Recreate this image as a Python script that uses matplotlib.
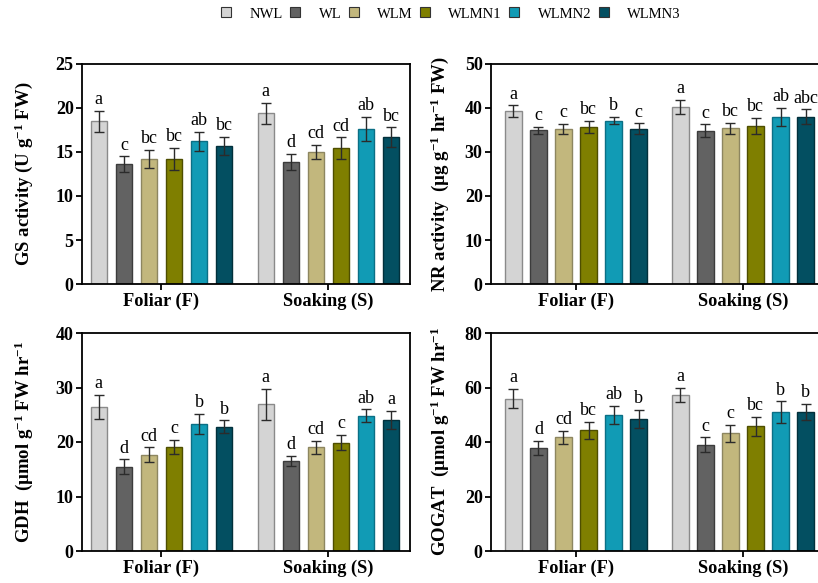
import numpy as np
import matplotlib
matplotlib.use("Agg")
import matplotlib.pyplot as plt
from matplotlib.lines import Line2D

plt.rcParams['font.family'] = ['Liberation Serif', 'DejaVu Serif']
plt.rcParams['mathtext.default'] = 'regular'

treatments = ['NWL', 'WL', 'WLM', 'WLMN1', 'WLMN2', 'WLMN3']
methods = ['Foliar (F)', 'Soaking (S)']
colors = ['#d4d4d4', '#626262', '#c2b77d', '#7f7f00', '#119bb5', '#034f61']
edges = ['#8a8a8a', '#3c3c3c', '#8d8660', '#4e4e00', '#0b6f85', '#02303b']

# GS activity: rows = treatments, cols = (Foliar, Soaking)
gs_mean = [[18.5, 19.4], [13.6, 13.9], [14.2, 15.0], [14.2, 15.4], [16.2, 17.6], [15.7, 16.7]]
gs_err = [[1.2, 1.2], [0.9, 0.9], [1.0, 0.8], [1.3, 1.25], [1.1, 1.4], [1.0, 1.1]]
gs_let = [['a', 'a'], ['c', 'd'], ['bc', 'cd'], ['bc', 'cd'], ['ab', 'ab'], ['bc', 'bc']]

nr_mean = [[39.3, 40.3], [34.9, 34.8], [35.3, 35.4], [35.7, 36.0], [37.1, 38.0], [35.3, 38.0]]
nr_err = [[1.3, 1.6], [0.8, 1.5], [1.1, 1.3], [1.4, 1.8], [0.8, 2.1], [1.2, 1.7]]
nr_let = [['a', 'a'], ['c', 'c'], ['c', 'bc'], ['bc', 'bc'], ['b', 'ab'], ['c', 'abc']]

gdh_mean = [[26.5, 26.9], [15.5, 16.5], [17.7, 19.0], [19.1, 19.9], [23.3, 24.8], [22.8, 24.0]]
gdh_err = [[2.2, 2.8], [1.3, 0.9], [1.3, 1.2], [1.35, 1.35], [1.8, 1.2], [1.15, 1.65]]
gdh_let = [['a', 'a'], ['d', 'd'], ['cd', 'cd'], ['c', 'c'], ['b', 'ab'], ['b', 'a']]

gogat_mean = [[55.9, 57.3], [37.8, 39.0], [41.7, 43.2], [44.3, 45.7], [49.9, 50.9], [48.4, 50.9]]
gogat_err = [[3.5, 2.5], [2.7, 2.7], [2.5, 3.1], [3.1, 3.5], [3.4, 4.0], [3.4, 3.0]]
gogat_let = [['a', 'a'], ['d', 'c'], ['cd', 'c'], ['bc', 'bc'], ['ab', 'b'], ['b', 'b']]

W, H = 818, 583
fig = plt.figure(figsize=(W / 100, H / 100), dpi=100)


def make_ax(left, top, bottom, xlim):
    width = (xlim[1] - xlim[0]) * 167
    return fig.add_axes([left / W, 1 - bottom / H, width / W, (bottom - top) / H])


def panel(ax, mean, err, letters, ymax, ystep, ylabel, xlim):
    x = np.arange(len(methods))
    for i in range(len(treatments)):
        xi = x + (i - 2.5) * 0.15
        m = mean[i]
        e = err[i]
        ax.bar(xi, m, width=0.10, color=colors[i], edgecolor=edges[i],
               linewidth=1.0, label=treatments[i], zorder=2)
        ax.errorbar(xi, m, yerr=e, fmt='none', ecolor='#2b2b2b', elinewidth=1.0,
                    capsize=3.5, capthick=1.0, zorder=3)
        for xx, mm, ee, lt in zip(xi, m, e, letters[i]):
            ax.annotate(lt, (xx, mm + ee), xytext=(0, 2), textcoords='offset points',
                        ha='center', va='bottom', fontsize=13)
    ax.set_xlim(*xlim)
    ax.set_ylim(0, ymax)
    ax.set_yticks(np.arange(0, ymax + 0.1, ystep))
    ax.set_xticks(x)
    ax.set_xticklabels(methods, fontweight='bold', fontsize=13.2)
    for t in ax.get_yticklabels():
        t.set_fontweight('bold')
        t.set_fontsize(13)
    ax.tick_params(axis='both', direction='out', length=4, width=1.3, pad=2)
    for s in ax.spines.values():
        s.set_linewidth(1.3)
    ax.set_ylabel(ylabel, fontweight='bold', fontsize=13.5)


xl_left = (-0.476, 1.488)
xl_right = (-0.509, 1.48)

ax1 = make_ax(82, 64, 284, xl_left)
panel(ax1, gs_mean, gs_err, gs_let, 25, 5, 'GS activity (U g$^{-1}$ FW)', xl_left)
ax1.yaxis.set_label_coords(-0.143, 0.5)

ax2 = make_ax(491, 64, 284, xl_right)
panel(ax2, nr_mean, nr_err, nr_let, 50, 10, 'NR activity  (µg g$^{-1}$ hr$^{-1}$ FW)', xl_right)
ax2.yaxis.set_label_coords(-0.12, 0.5)

ax3 = make_ax(82, 333, 551, xl_left)
panel(ax3, gdh_mean, gdh_err, gdh_let, 40, 10, 'GDH  (µmol g$^{-1}$ FW hr$^{-1}$', xl_left)
ax3.yaxis.set_label_coords(-0.143, 0.5)

ax4 = make_ax(491, 333, 551, xl_right)
panel(ax4, gogat_mean, gogat_err, gogat_let, 80, 20, 'GOGAT  (µmol g$^{-1}$ FW hr$^{-1}$', xl_right)
ax4.yaxis.set_label_coords(-0.12, 0.5)

handles = [Line2D([], [], ls='none', marker='s', markersize=6.5, markerfacecolor=c,
                  markeredgecolor='#333333', markeredgewidth=0.8) for c in colors]
fig.legend(handles=handles, labels=treatments, loc='center', bbox_to_anchor=(0.55, 1 - 14 / H),
           ncol=6, frameon=False, fontsize=10.5, handlelength=1.0,
           handletextpad=1.1, columnspacing=0.35)

fig.savefig('out.png', dpi=100)
